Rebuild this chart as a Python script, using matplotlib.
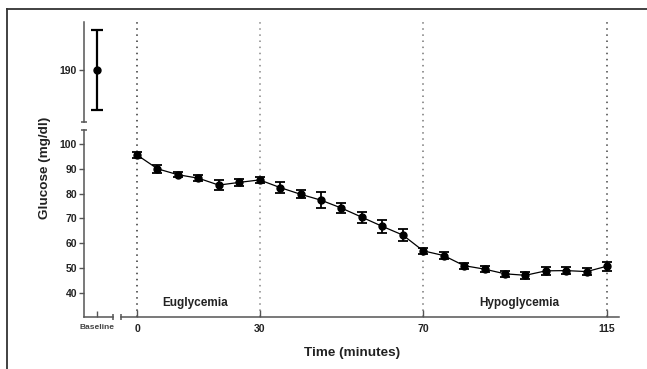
import matplotlib
matplotlib.use('Agg')
import matplotlib.pyplot as plt
from matplotlib.lines import Line2D

plt.rcParams['font.family'] = ['Liberation Sans', 'DejaVu Sans']
plt.rcParams['font.weight'] = 'bold'

# data
times = [0, 5, 10, 15, 20, 25, 30, 35, 40, 45, 50, 55,
         60, 65, 70, 75, 80, 85, 90, 95, 100, 105, 110, 115]
glucose = [95.7, 90.1, 87.7, 86.3, 83.5, 84.6, 85.6, 82.5, 79.8, 77.4, 74.2, 70.5,
           66.8, 63.3, 56.9, 55.0, 50.9, 49.5, 47.6, 47.0, 48.8, 48.9, 48.5, 50.7]
sem = [1.1, 1.5, 1.0, 1.3, 2.0, 1.5, 1.2, 2.2, 1.6, 3.2, 2.0, 2.2,
       2.6, 2.4, 1.2, 1.3, 1.2, 1.3, 1.2, 1.4, 1.5, 1.3, 1.3, 1.8]
baseline_mean = 190
baseline_sem = 16
phase_lines = [0, 30, 70, 115]
phase_colors = ['#333333', '#888888', '#777777', '#444444']
y_ticks = [40, 50, 60, 70, 80, 90, 100]

W, H = 647, 369
fig = plt.figure(figsize=(W / 100, H / 100), dpi=100)

def box(x0, y0, x1, y1):
    # pixel box (top-left origin) -> figure fraction
    return [x0 / W, 1 - y1 / H, (x1 - x0) / W, (y1 - y0) / H]

spine_col = '#555555'
txt_col = '#222222'

ax_up = fig.add_axes(box(84, 21.7, 113.3, 122))
ax_low = fig.add_axes(box(84, 130, 113.3, 317.3))
ax_main = fig.add_axes(box(120.7, 130, 619, 317.3))

for ax in (ax_up, ax_low, ax_main):
    ax.patch.set_alpha(0)
    for s in ax.spines.values():
        s.set_visible(False)
        s.set_color(spine_col)
        s.set_linewidth(1.1)

# upper part: baseline point
ax_up.set_xlim(0, 1)
ax_up.set_ylim(168.95, 209.55)
ax_up.spines['left'].set_visible(True)
ax_up.set_xticks([])
ax_up.set_yticks([190])
ax_up.tick_params(axis='y', direction='out', length=3.5, width=1, color=spine_col,
                  labelsize=7.5, pad=1.5, labelcolor=txt_col)
ax_up.errorbar([0.433], [baseline_mean], yerr=[baseline_sem], fmt='o', color='black',
               ms=5, elinewidth=1.6, capsize=4, capthick=1.6, clip_on=False)
ax_up.plot([0], [0], marker='_', ms=4.5, mew=1.1, color=spine_col,
           transform=ax_up.transAxes, clip_on=False)

# lower left part: y axis and baseline tick
ax_low.set_xlim(0, 1)
ax_low.set_ylim(30, 105.8)
ax_low.spines['left'].set_visible(True)
ax_low.spines['bottom'].set_visible(True)
ax_low.set_yticks(y_ticks)
ax_low.set_xticks([0.433])
ax_low.set_xticklabels(['Baseline'], fontsize=6, color='#444444')
ax_low.tick_params(axis='y', direction='out', length=3.5, width=1, color=spine_col,
                   labelsize=7.5, pad=1.5, labelcolor=txt_col)
ax_low.tick_params(axis='x', direction='in', length=4, width=1, color=spine_col, pad=5)
ax_low.plot([0], [1], marker='_', ms=4.5, mew=1.1, color=spine_col,
            transform=ax_low.transAxes, clip_on=False)
ax_low.plot([1], [0], marker='|', ms=4, mew=1.1, color=spine_col,
            transform=ax_low.transAxes, clip_on=False)

# main part
ax_main.set_xlim(-4.0, 117.9)
ax_main.set_ylim(30, 105.8)
ax_main.spines['bottom'].set_visible(True)
ax_main.set_yticks([])
ax_main.set_xticks(phase_lines)
ax_main.tick_params(axis='x', direction='in', length=5, width=1, color=spine_col,
                    labelsize=7.5, pad=5, labelcolor=txt_col)
ax_main.plot([0], [0], marker='|', ms=4, mew=1.1, color=spine_col,
             transform=ax_main.transAxes, clip_on=False)

for t, c in zip(phase_lines, phase_colors):
    ax_main.axvline(t, ymin=0, ymax=1.587, color=c, lw=1.1,
                    linestyle=(0, (1, 3)), clip_on=False, zorder=1)

ax_main.errorbar(times, glucose, yerr=sem, fmt='-o', color='black', lw=0.9,
                 ms=5, elinewidth=1.3, capsize=3.6, capthick=1.3, zorder=3,
                 clip_on=False)

ax_main.text(14.2, 35.7, 'Euglycemia', fontsize=8.5, ha='center', va='center', color=txt_col)
ax_main.text(93.5, 35.7, 'Hypoglycemia', fontsize=8.5, ha='center', va='center', color=txt_col)

fig.text(352 / W, 1 - 353 / H, 'Time (minutes)', fontsize=9.7, ha='center', va='center',
         color=txt_col)
fig.text(45 / W, 1 - 168 / H, 'Glucose (mg/dl)', fontsize=9.7, ha='center', va='center',
         rotation=90, color=txt_col)

# border of the cropped frame
fig.add_artist(Line2D([7 / W, 1.01], [1 - 9 / H, 1 - 9 / H], color='#333333', lw=1.3))
fig.add_artist(Line2D([7 / W, 7 / W], [-0.01, 1 - 9 / H], color='#333333', lw=1.3))

fig.savefig('out.png', dpi=100)
